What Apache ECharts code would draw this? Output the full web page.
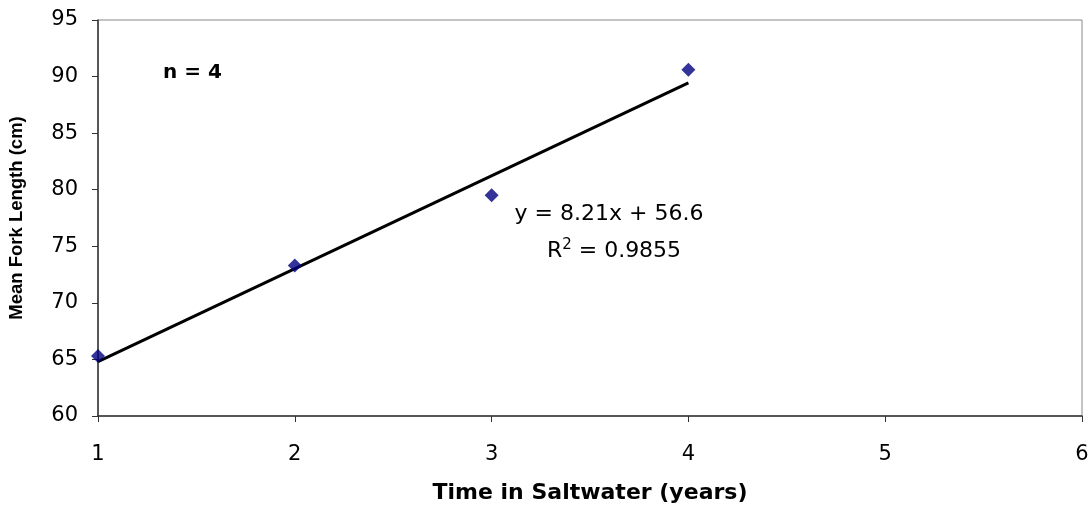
<!DOCTYPE html>
<html>
<head>
<meta charset="utf-8">
<script src="https://cdn.jsdelivr.net/npm/echarts@6/dist/echarts.min.js"></script>
<style>
html,body{margin:0;padding:0;background:#fff;}
#chart{width:1092px;height:512px;}
</style>
</head>
<body>
<div id="chart"></div>
<script>
const years = [1, 2, 3, 4];
const meanForkLength = [65.3, 73.3, 79.5, 90.6];
const trendSlope = 8.21;
const trendIntercept = 56.6;
const trendX = [1, 4];
const xTicks = [1, 2, 3, 4, 5, 6];
const yTicks = [60, 65, 70, 75, 80, 85, 90, 95];

const points = years.map((x, i) => [x, meanForkLength[i]]);
const trend = trendX.map(x => [x, trendSlope * x + trendIntercept]);

const chart = echarts.init(document.getElementById('chart'));
const font = '"DejaVu Sans", "Liberation Sans", Arial, sans-serif';
const arial = '"Liberation Sans", Arial, sans-serif';
chart.setOption({
  animation: false,
  grid: { left: 98, right: 10, top: 20, bottom: 96, show: true, borderColor: '#888', borderWidth: 1, containLabel: false, outerBoundsMode: 'none' },
  xAxis: {
    type: 'value', min: 1, max: 6, interval: 1,
    name: 'Time in Saltwater (years)', nameLocation: 'middle', nameGap: 66,
    nameTextStyle: { fontFamily: font, fontSize: 22, fontWeight: 'bold', color: '#000' },
    axisLine: { show: true, lineStyle: { color: '#333', width: 1.5 } },
    axisTick: { show: true, length: 6, lineStyle: { color: '#333' } },
    axisLabel: { fontFamily: font, fontSize: 21, color: '#000', margin: 28 },
    splitLine: { show: false }
  },
  yAxis: {
    type: 'value', min: 60, max: 95, interval: 5,
    name: 'Mean Fork Length (cm)', nameLocation: 'middle', nameGap: 72,
    nameTextStyle: { fontFamily: arial, fontSize: 18.5, fontWeight: 'bold', color: '#000' },
    axisLine: { show: true, lineStyle: { color: '#333', width: 1.5 } },
    axisTick: { show: true, length: 6, lineStyle: { color: '#333' } },
    axisLabel: { fontFamily: font, fontSize: 21, color: '#000', margin: 20 },
    splitLine: { show: false }
  },
  series: [
    {
      type: 'line', data: trend, showSymbol: false, symbol: 'none',
      lineStyle: { color: '#000', width: 3 }, z: 2
    },
    {
      type: 'scatter', data: points, symbol: 'diamond', symbolSize: 14,
      itemStyle: { color: '#000080' }, z: 3
    }
  ],
  graphic: [
    { type: 'text', x: 163, y: 73, style: { text: 'n = 4', font: 'bold 20px ' + font, fill: '#000', textVerticalAlign: 'middle' } },
    { type: 'text', x: 609, y: 214, style: { text: 'y = 8.21x + 56.6', font: '22px ' + font, fill: '#000', textAlign: 'center', textVerticalAlign: 'middle' } },
    { type: 'text', x: 614, y: 250, style: {
        text: '{n|R}{s|2}{n| = 0.9855}', textAlign: 'center', textVerticalAlign: 'middle',
        rich: {
          n: { fontFamily: font, fontSize: 22, fill: '#000', verticalAlign: 'bottom' },
          s: { fontFamily: font, fontSize: 15, fill: '#000', verticalAlign: 'top', padding: [0, 0, 9, 0] }
        }
    } }
  ]
});
</script>
</body>
</html>
